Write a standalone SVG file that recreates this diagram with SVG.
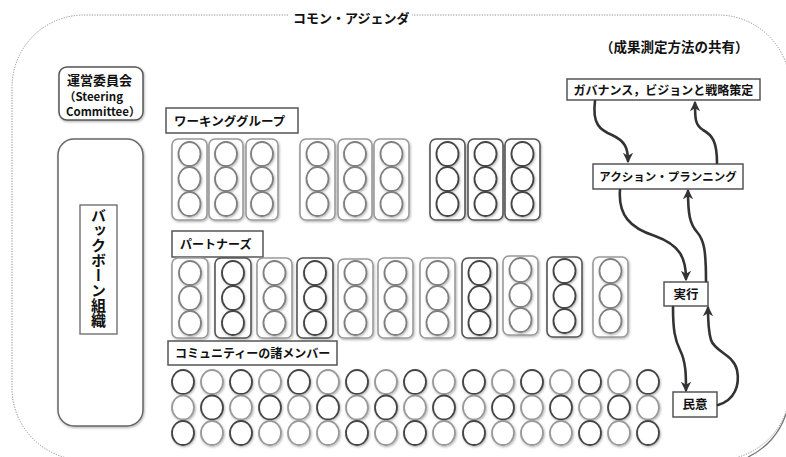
<svg xmlns="http://www.w3.org/2000/svg" width="786" height="457" viewBox="0 0 786 457">
<style>
  text { font-family: "Noto Sans CJK JP", "Noto Sans", sans-serif; font-weight: bold; fill: #111; }
  .lbl { fill: #fff; stroke: #555; stroke-width: 1.5; }
  .pill { fill: #fff; stroke: #9a9a9a; stroke-width: 1.6; }
  .pill.dk { stroke: #555; }
  .c { fill: #fff; stroke: #808080; stroke-width: 1.8; }
  .c.dk { stroke: #444; }
  .c.lt { stroke: #999; }
  .conn { fill: none; stroke: #333; stroke-width: 2.6; stroke-linecap: round; }
</style>
<defs>
  <marker id="ah" viewBox="0 0 10 10" refX="8" refY="5" markerWidth="4" markerHeight="4" orient="auto" markerUnits="strokeWidth">
    <path d="M0,0 L10,5 L0,10 L3,5 Z" fill="#333"/>
  </marker>
  <filter id="sh" x="-20%" y="-20%" width="140%" height="140%">
    <feDropShadow dx="0.8" dy="1.2" stdDeviation="0.8" flood-color="#000" flood-opacity="0.3"/>
  </filter>
</defs>
<rect width="786" height="457" fill="#fff"/>

<!-- outer common agenda frame -->
<g id="common-agenda">
  <rect x="12" y="15" width="778" height="445" rx="72" ry="72" fill="none" stroke="#8c8c8c" stroke-width="1" stroke-dasharray="1.2 1.4"/>
  <path d="M786,414 A72,72 0 0 1 748,457" fill="none" stroke="#777" stroke-width="1.3"/>
  <rect x="288" y="6" width="124" height="22" fill="#fff"/>
  <text x="293" y="23" font-size="13">コモン・アジェンダ</text>
  <text x="600" y="52" font-size="13.5">（成果測定方法の共有）</text>
</g>

<!-- steering committee -->
<g id="steering">
  <rect x="59" y="67" width="84" height="53" rx="8" fill="#fff" stroke="#555" stroke-width="1.5" filter="url(#sh)"/>
  <text x="67" y="85" font-size="13">運営委員会</text>
  <text x="64" y="101" font-size="11.5">（Steering</text>
  <text x="66" y="116" font-size="11.5">Committee）</text>
</g>

<!-- backbone organization -->
<g id="backbone">
  <rect x="58" y="139" width="85" height="287" rx="16" fill="#fff" stroke="#666" stroke-width="1.5" filter="url(#sh)"/>
  <rect x="80" y="205" width="37" height="129" fill="#fff" stroke="#666" stroke-width="1.3"/>
  <text x="98.5" y="268" font-size="15" text-anchor="middle" style="writing-mode: vertical-rl;">バックボーン組織</text>
</g>

<!-- working groups -->
<g id="working-groups">
  <rect class="lbl" x="166" y="108" width="132" height="25"/>
  <text x="174" y="126" font-size="12.5">ワーキンググループ</text>
  <g id="wg-pills" filter="url(#sh)">
    <rect class="pill" x="172" y="139" width="35" height="81" rx="6"/>
    <rect class="pill" x="209" y="139" width="34" height="81" rx="6"/>
    <rect class="pill" x="246" y="139" width="32" height="81" rx="6"/>
    <rect class="pill" x="300" y="139" width="35" height="81" rx="6"/>
    <rect class="pill" x="338" y="139" width="34" height="81" rx="6"/>
    <rect class="pill" x="374" y="139" width="35" height="81" rx="6"/>
    <rect class="pill dk" x="430" y="139" width="35" height="81" rx="6"/>
    <rect class="pill dk" x="468" y="139" width="35" height="81" rx="6"/>
    <rect class="pill dk" x="505" y="139" width="35" height="81" rx="6"/>
  </g>
  <g id="wg-members" filter="url(#sh)">
    <ellipse class="c" cx="189.5" cy="154" rx="11" ry="12"/><ellipse class="c" cx="189.5" cy="179" rx="11" ry="12"/><ellipse class="c" cx="189.5" cy="204" rx="11" ry="12"/>
    <ellipse class="c" cx="226" cy="154" rx="11" ry="12"/><ellipse class="c" cx="226" cy="179" rx="11" ry="12"/><ellipse class="c" cx="226" cy="204" rx="11" ry="12"/>
    <ellipse class="c" cx="262" cy="154" rx="11" ry="12"/><ellipse class="c" cx="262" cy="179" rx="11" ry="12"/><ellipse class="c" cx="262" cy="204" rx="11" ry="12"/>
    <ellipse class="c" cx="317.5" cy="154" rx="11" ry="12"/><ellipse class="c" cx="317.5" cy="179" rx="11" ry="12"/><ellipse class="c" cx="317.5" cy="204" rx="11" ry="12"/>
    <ellipse class="c" cx="355" cy="154" rx="11" ry="12"/><ellipse class="c" cx="355" cy="179" rx="11" ry="12"/><ellipse class="c" cx="355" cy="204" rx="11" ry="12"/>
    <ellipse class="c" cx="391.5" cy="154" rx="11" ry="12"/><ellipse class="c" cx="391.5" cy="179" rx="11" ry="12"/><ellipse class="c" cx="391.5" cy="204" rx="11" ry="12"/>
    <ellipse class="c dk" cx="447.5" cy="154" rx="11" ry="12"/><ellipse class="c dk" cx="447.5" cy="179" rx="11" ry="12"/><ellipse class="c dk" cx="447.5" cy="204" rx="11" ry="12"/>
    <ellipse class="c dk" cx="485.5" cy="154" rx="11" ry="12"/><ellipse class="c dk" cx="485.5" cy="179" rx="11" ry="12"/><ellipse class="c dk" cx="485.5" cy="204" rx="11" ry="12"/>
    <ellipse class="c dk" cx="522.5" cy="154" rx="11" ry="12"/><ellipse class="c dk" cx="522.5" cy="179" rx="11" ry="12"/><ellipse class="c dk" cx="522.5" cy="204" rx="11" ry="12"/>
  </g>
</g>

<!-- partners -->
<g id="partners">
  <rect class="lbl" x="172" y="231" width="91" height="26"/>
  <text x="180" y="249" font-size="12">パートナーズ</text>
  <g id="partner-pills" filter="url(#sh)">
    <rect class="pill" x="172" y="258" width="36" height="80" rx="6"/>
    <rect class="pill dk" x="215" y="258" width="36" height="80" rx="6"/>
    <rect class="pill" x="257" y="258" width="35" height="80" rx="6"/>
    <rect class="pill dk" x="297" y="258" width="36" height="80" rx="6"/>
    <rect class="pill" x="338" y="259" width="35" height="79" rx="6"/>
    <rect class="pill" x="378" y="258" width="35" height="80" rx="6"/>
    <rect class="pill" x="420" y="258" width="35" height="80" rx="6"/>
    <rect class="pill dk" x="462" y="258" width="35" height="80" rx="6"/>
    <rect class="pill" x="503" y="256" width="35" height="79" rx="6"/>
    <rect class="pill dk" x="547" y="257" width="35" height="80" rx="6"/>
    <rect class="pill" x="593" y="257" width="35" height="80" rx="6"/>
  </g>
  <g id="partner-members" filter="url(#sh)">
    <ellipse class="c" cx="190" cy="273" rx="11" ry="12"/><ellipse class="c" cx="190" cy="298" rx="11" ry="12"/><ellipse class="c" cx="190" cy="323" rx="11" ry="12"/>
    <ellipse class="c dk" cx="233" cy="273" rx="11" ry="12"/><ellipse class="c dk" cx="233" cy="298" rx="11" ry="12"/><ellipse class="c dk" cx="233" cy="323" rx="11" ry="12"/>
    <ellipse class="c" cx="274.5" cy="273" rx="11" ry="12"/><ellipse class="c" cx="274.5" cy="298" rx="11" ry="12"/><ellipse class="c" cx="274.5" cy="323" rx="11" ry="12"/>
    <ellipse class="c dk" cx="315" cy="273" rx="11" ry="12"/><ellipse class="c dk" cx="315" cy="298" rx="11" ry="12"/><ellipse class="c dk" cx="315" cy="323" rx="11" ry="12"/>
    <ellipse class="c" cx="355.5" cy="273" rx="11" ry="12"/><ellipse class="c" cx="355.5" cy="298" rx="11" ry="12"/><ellipse class="c" cx="355.5" cy="323" rx="11" ry="12"/>
    <ellipse class="c" cx="395.5" cy="273" rx="11" ry="12"/><ellipse class="c" cx="395.5" cy="298" rx="11" ry="12"/><ellipse class="c" cx="395.5" cy="323" rx="11" ry="12"/>
    <ellipse class="c" cx="437.5" cy="273" rx="11" ry="12"/><ellipse class="c" cx="437.5" cy="298" rx="11" ry="12"/><ellipse class="c" cx="437.5" cy="323" rx="11" ry="12"/>
    <ellipse class="c dk" cx="479.5" cy="273" rx="11" ry="12"/><ellipse class="c dk" cx="479.5" cy="298" rx="11" ry="12"/><ellipse class="c dk" cx="479.5" cy="323" rx="11" ry="12"/>
    <ellipse class="c" cx="520.5" cy="270" rx="11" ry="12"/><ellipse class="c" cx="520.5" cy="295" rx="11" ry="12"/><ellipse class="c" cx="520.5" cy="320" rx="11" ry="12"/>
    <ellipse class="c dk" cx="564.5" cy="271" rx="11" ry="12"/><ellipse class="c dk" cx="564.5" cy="296" rx="11" ry="12"/><ellipse class="c dk" cx="564.5" cy="321" rx="11" ry="12"/>
    <ellipse class="c" cx="610.5" cy="271" rx="11" ry="12"/><ellipse class="c" cx="610.5" cy="296" rx="11" ry="12"/><ellipse class="c" cx="610.5" cy="321" rx="11" ry="12"/>
  </g>
</g>

<!-- community members -->
<g id="community">
  <rect class="lbl" x="168" y="341" width="169" height="24"/>
  <text x="175" y="358" font-size="12">コミュニティーの諸メンバー</text>
  <g id="community-members" filter="url(#sh)">
    <ellipse class="c dk" cx="183" cy="382" rx="11" ry="12"/><ellipse class="c lt" cx="212" cy="382" rx="11" ry="12"/><ellipse class="c dk" cx="241" cy="382" rx="11" ry="12"/><ellipse class="c lt" cx="270" cy="382" rx="11" ry="12"/><ellipse class="c dk" cx="299" cy="382" rx="11" ry="12"/><ellipse class="c lt" cx="328" cy="382" rx="11" ry="12"/><ellipse class="c dk" cx="357" cy="382" rx="11" ry="12"/><ellipse class="c lt" cx="386" cy="382" rx="11" ry="12"/><ellipse class="c dk" cx="415" cy="382" rx="11" ry="12"/><ellipse class="c lt" cx="444" cy="382" rx="11" ry="12"/><ellipse class="c dk" cx="474" cy="382" rx="11" ry="12"/><ellipse class="c lt" cx="503" cy="382" rx="11" ry="12"/><ellipse class="c dk" cx="532" cy="382" rx="11" ry="12"/><ellipse class="c lt" cx="561" cy="382" rx="11" ry="12"/><ellipse class="c dk" cx="590" cy="382" rx="11" ry="12"/><ellipse class="c lt" cx="619" cy="382" rx="11" ry="12"/><ellipse class="c dk" cx="648" cy="382" rx="11" ry="12"/>
    <ellipse class="c lt" cx="183" cy="407.5" rx="11" ry="12"/><ellipse class="c dk" cx="212" cy="407.5" rx="11" ry="12"/><ellipse class="c lt" cx="241" cy="407.5" rx="11" ry="12"/><ellipse class="c dk" cx="270" cy="407.5" rx="11" ry="12"/><ellipse class="c lt" cx="299" cy="407.5" rx="11" ry="12"/><ellipse class="c dk" cx="328" cy="407.5" rx="11" ry="12"/><ellipse class="c lt" cx="357" cy="407.5" rx="11" ry="12"/><ellipse class="c dk" cx="386" cy="407.5" rx="11" ry="12"/><ellipse class="c lt" cx="415" cy="407.5" rx="11" ry="12"/><ellipse class="c dk" cx="444" cy="407.5" rx="11" ry="12"/><ellipse class="c lt" cx="474" cy="407.5" rx="11" ry="12"/><ellipse class="c dk" cx="503" cy="407.5" rx="11" ry="12"/><ellipse class="c lt" cx="532" cy="407.5" rx="11" ry="12"/><ellipse class="c dk" cx="561" cy="407.5" rx="11" ry="12"/><ellipse class="c lt" cx="590" cy="407.5" rx="11" ry="12"/><ellipse class="c dk" cx="619" cy="407.5" rx="11" ry="12"/><ellipse class="c lt" cx="648" cy="407.5" rx="11" ry="12"/>
    <ellipse class="c dk" cx="183" cy="433" rx="11" ry="12"/><ellipse class="c lt" cx="212" cy="433" rx="11" ry="12"/><ellipse class="c dk" cx="241" cy="433" rx="11" ry="12"/><ellipse class="c lt" cx="270" cy="433" rx="11" ry="12"/><ellipse class="c lt" cx="299" cy="433" rx="11" ry="12"/><ellipse class="c lt" cx="328" cy="433" rx="11" ry="12"/><ellipse class="c dk" cx="357" cy="433" rx="11" ry="12"/><ellipse class="c lt" cx="386" cy="433" rx="11" ry="12"/><ellipse class="c dk" cx="415" cy="433" rx="11" ry="12"/><ellipse class="c lt" cx="444" cy="433" rx="11" ry="12"/><ellipse class="c dk" cx="474" cy="433" rx="11" ry="12"/><ellipse class="c lt" cx="503" cy="433" rx="11" ry="12"/><ellipse class="c lt" cx="532" cy="433" rx="11" ry="12"/><ellipse class="c lt" cx="561" cy="433" rx="11" ry="12"/><ellipse class="c dk" cx="590" cy="433" rx="11" ry="12"/><ellipse class="c lt" cx="619" cy="433" rx="11" ry="12"/><ellipse class="c dk" cx="648" cy="433" rx="11" ry="12"/>
  </g>
</g>

<!-- cycle nodes -->
<g id="governance">
  <rect class="lbl" x="567" y="79" width="193" height="21"/>
  <text x="663.5" y="94.5" font-size="12" text-anchor="middle">ガバナンス，ビジョンと戦略策定</text>
</g>
<g id="action-planning">
  <rect class="lbl" x="593" y="164" width="150" height="25"/>
  <text x="668" y="181" font-size="11.5" text-anchor="middle">アクション・プランニング</text>
</g>
<g id="execution">
  <rect class="lbl" x="664" y="282" width="44" height="24"/>
  <text x="686" y="298.5" font-size="12.5" text-anchor="middle">実行</text>
</g>
<g id="public-will">
  <rect class="lbl" x="673" y="392" width="44" height="25"/>
  <text x="695" y="409" font-size="12.5" text-anchor="middle">民意</text>
</g>

<!-- connectors -->
<g id="connectors">
  <path class="conn" marker-end="url(#ah)" d="M595,101 C592,124 600,130 612,135 C625,141 628,148 628,161"/>
  <path class="conn" marker-end="url(#ah)" d="M717,163 C717,141 712,135 703,130 C695,125 695,118 695,103"/>
  <path class="conn" marker-end="url(#ah)" d="M620,190 C618,215 630,228 655,236 C680,245 686,258 686,279"/>
  <path class="conn" marker-end="url(#ah)" d="M706,281 C706,250 704,240 697,232 C690,224 688,215 688,191"/>
  <path class="conn" marker-end="url(#ah)" d="M673,307 C673,330 675,340 680,350 C686,362 686,375 686,390"/>
  <path class="conn" marker-end="url(#ah)" d="M718,405 C735,400 740,385 737,370 C734,355 715,352 711,340 C708,330 708,320 708,308"/>
</g>
</svg>
